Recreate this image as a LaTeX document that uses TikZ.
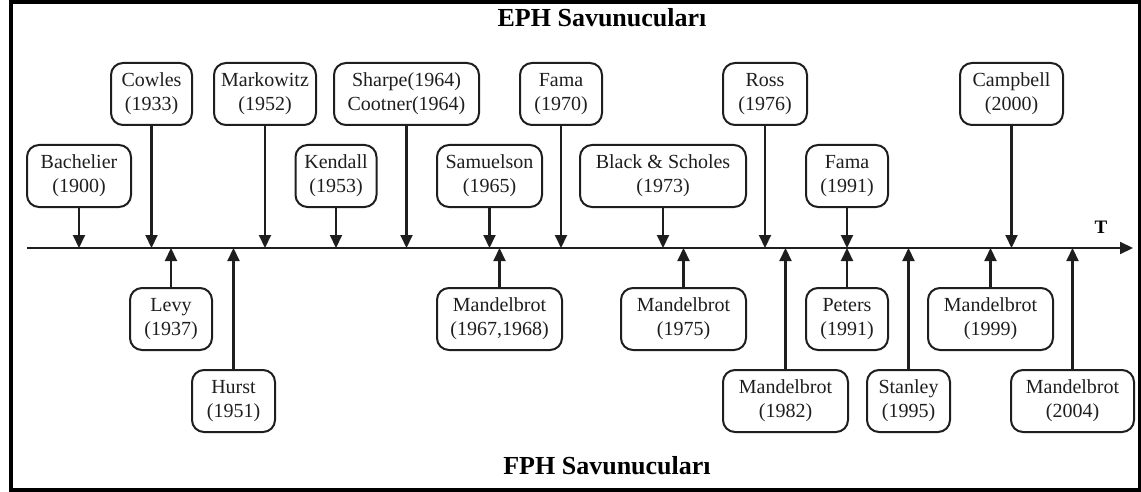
\documentclass[tikz,border=0pt]{standalone}
\usepackage{fontspec}
\setmainfont{Liberation Serif}
\usetikzlibrary{arrows.meta}
\definecolor{ink}{HTML}{1E1E1E}
\begin{document}
\begin{tikzpicture}[x=1pt,y=-1pt,
  entry/.style={draw=ink, line width=2pt, rounded corners=12pt,
    minimum height=62pt, inner sep=0pt, align=center,
    font=\fontsize{20}{24}\selectfont, text=ink},
  link/.style={draw=ink, line width=2.1pt,
    -{Triangle[width=12pt,length=13pt]}},
  heading/.style={font=\fontsize{26}{30}\selectfont\bfseries, text=black}]
\useasboundingbox (0,0) rectangle (1141,492);
% outer frame
\draw[line width=3.6pt] (11,2) rectangle (1139.5,490);

% headings
\node[heading] (eph) at (602,18) {EPH Savunucuları};
\node[heading] (fph) at (607,466) {FPH Savunucuları};

% time axis
\coordinate (ax0) at (27,248);
\coordinate (ax1) at (1133,248);
\draw[link] (ax0) -- (ax1);
\node[font=\fontsize{19}{22}\selectfont\bfseries] (tlab) at (1101,227) {T};

% EPH side (above the axis)
\node[entry, minimum width=104pt] (bach) at (79,176)    {Bachelier\\(1900)};
\node[entry, minimum width=81pt]  (cowl) at (151.5,94)  {Cowles\\(1933)};
\node[entry, minimum width=102pt] (mark) at (265,94)    {Markowitz\\(1952)};
\node[entry, minimum width=81pt]  (kend) at (336,176)   {Kendall\\(1953)};
\node[entry, minimum width=145pt] (shar) at (406.5,94)  {Sharpe(1964)\\Cootner(1964)};
\node[entry, minimum width=105pt] (samu) at (489.5,176) {Samuelson\\(1965)};
\node[entry, minimum width=82pt]  (fam1) at (561,94)    {Fama\\(1970)};
\node[entry, minimum width=166pt] (blsc) at (663,176)   {Black \& Scholes\\(1973)};
\node[entry, minimum width=84pt]  (ross) at (765,94)    {Ross\\(1976)};
\node[entry, minimum width=82pt]  (fam2) at (847,176)   {Fama\\(1991)};
\node[entry, minimum width=103pt] (camp) at (1011.5,94) {Campbell\\(2000)};

% FPH side (below the axis)
\node[entry, minimum width=82pt]  (levy) at (171,319)   {Levy\\(1937)};
\node[entry, minimum width=83pt]  (hurs) at (233.5,401) {Hurst\\(1951)};
\node[entry, minimum width=125pt] (ma67) at (499.5,319) {Mandelbrot\\(1967,1968)};
\node[entry, minimum width=125pt] (ma75) at (683.5,319) {Mandelbrot\\(1975)};
\node[entry, minimum width=125pt] (ma82) at (785.5,401) {Mandelbrot\\(1982)};
\node[entry, minimum width=82pt]  (pete) at (847,319)   {Peters\\(1991)};
\node[entry, minimum width=83pt]  (stan) at (908.5,401) {Stanley\\(1995)};
\node[entry, minimum width=125pt] (ma99) at (990.5,319) {Mandelbrot\\(1999)};
\node[entry, minimum width=123pt] (ma04) at (1072.5,401){Mandelbrot\\(2004)};

% arrows onto the axis
\foreach \n in {bach,cowl,mark,kend,shar,samu,fam1,blsc,ross,fam2,camp}
  \draw[link] (\n.south) -- (\n.south |- ax0);
\foreach \n in {levy,hurs,ma67,ma75,ma82,pete,stan,ma99,ma04}
  \draw[link] (\n.north) -- (\n.north |- ax0);
\end{tikzpicture}
\end{document}
